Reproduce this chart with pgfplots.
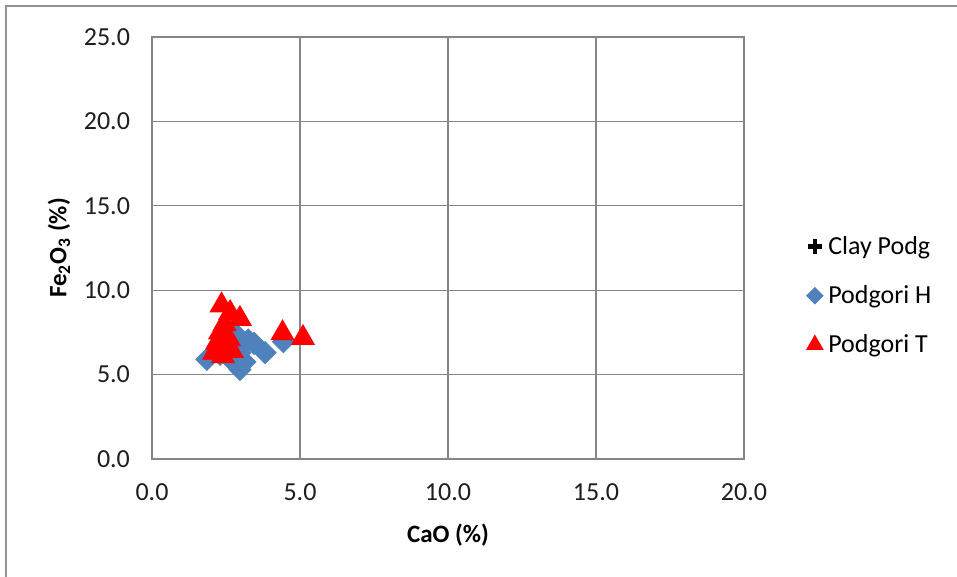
\documentclass[border=0pt]{standalone}
\usepackage{fontspec}
\setmainfont{Carlito}
\usepackage{pgfplots}
\pgfplotsset{compat=1.18}
\definecolor{gridgray}{RGB}{134,134,134}
\definecolor{hblue}{RGB}{79,129,189}
\definecolor{tred}{RGB}{255,0,0}
\definecolor{labelgray}{RGB}{30,30,30}
\begin{document}
\begin{tikzpicture}
% page area; the axis box has its lower left corner at the origin
\useasboundingbox (-76pt,-59pt) rectangle (402.5pt,229.5pt);
\fill[white] (-76pt,-59pt) rectangle (402.5pt,229.5pt);
% chart area frame
\draw[gridgray!90, line width=1pt] (-73pt,-59pt) -- (-73pt,226.5pt) -- (402.5pt,226.5pt);
\begin{axis}[
  scale only axis, width=296pt, height=211pt,
  xmin=0, xmax=20, ymin=0, ymax=25,
  xtick={0,5,...,20}, ytick={0,5,...,25},
  grid=major,
  major grid style={gridgray, line width=0.6pt},
  axis line style={gridgray, line width=0.6pt},
  tick style={draw=none},
  /pgf/number format/assume math mode=true,
  /pgf/number format/.cd, fixed, fixed zerofill, precision=1, /pgfplots/.cd,
  ticklabel style={font=\fontsize{13}{15}\selectfont, text=labelgray},
  xticklabel style={yshift=-9pt},
  yticklabel style={xshift=-7.5pt},
  xlabel={\textbf{CaO (\%)}},
  ylabel={\textbf{Fe\textsubscript{2}O\textsubscript{3} (\%)}},
  label style={font=\fontsize{12.5}{14}\selectfont},
  xlabel style={at={(axis description cs:0.5,-0.18)}, anchor=center},
  ylabel style={at={(axis description cs:-0.157,0.5)}, anchor=center},
  legend style={at={(1.093,0.387)}, anchor=west, draw=none, fill=none,
    font=\fontsize{13}{15}\selectfont, row sep=10pt},
  legend cell align=left,
  clip=false,
]
% Clay Podg
\addplot[only marks, mark=+, mark size=4pt, line width=1.8pt, black,
  legend image code/.code={
    \draw[black, line width=2.2pt] (0.3cm-3.6pt,0pt) -- (0.3cm+3.6pt,0pt)
      (0.3cm,-3.6pt) -- (0.3cm,3.6pt);}]
  coordinates {(2.75,7.3)};
\addlegendentry{Clay Podg}
% Podgori H
\addplot[only marks, mark=square*, mark size=3.9pt,
  mark options={rotate=45, fill=hblue, draw=hblue},
  legend image post style={mark size=2.9pt}]
  coordinates {
  (1.85,5.9) (2.97,5.3) (3.14,5.75) (3.82,6.3) (4.44,6.95) (3.25,7.05)
  (3.45,6.85) (2.86,7.35) (2.97,6.3) (2.3,6.2) (2.6,6.0)
  };
\addlegendentry{Podgori H}
% Podgori T
\addplot[only marks, mark=triangle*, mark size=6.6pt,
  mark options={fill=tred, draw=tred},
  legend image post style={mark size=4.7pt}]
  coordinates {
  (2.35,9.1) (2.64,8.65) (2.97,8.3) (2.45,8.0) (4.41,7.45) (5.1,7.17)
  (2.1,6.3) (2.2,6.9) (2.3,7.5) (2.4,6.1) (2.5,6.6) (2.6,7.1)
  (2.7,6.4) (2.3,6.4)
  };
\addlegendentry{Podgori T}
\end{axis}
\end{tikzpicture}
\end{document}
